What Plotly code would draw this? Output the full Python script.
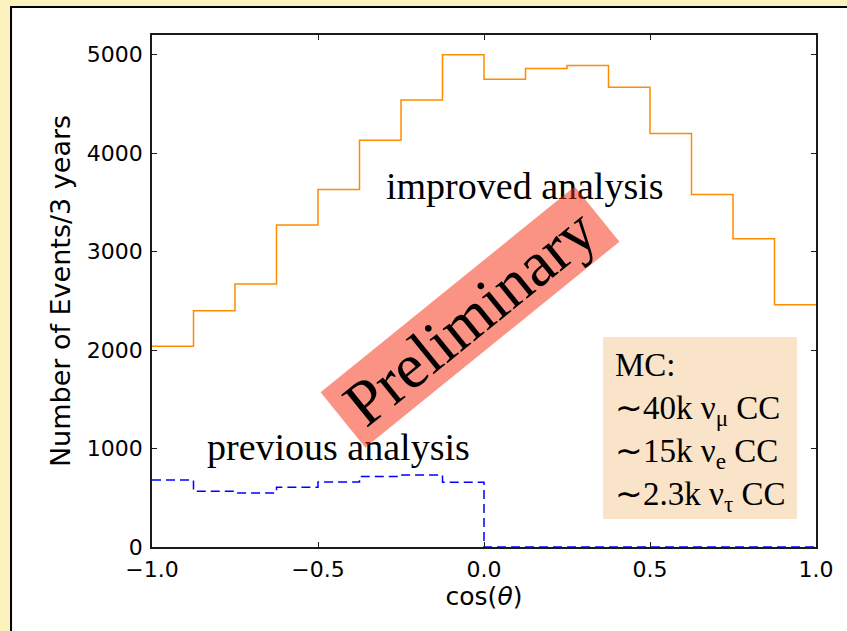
import plotly.graph_objects as go

# cos(theta) binning and event counts per bin (3 years)
bin_edges = [-1.0, -0.875, -0.75, -0.625, -0.5, -0.375, -0.25, -0.125,
             0.0, 0.125, 0.25, 0.375, 0.5, 0.625, 0.75, 0.875, 1.0]
improved_counts = [2040, 2400, 2670, 3270, 3630, 4130, 4540, 5000,
                   4750, 4860, 4890, 4670, 4200, 3580, 3130, 2460]
previous_counts = [680, 566, 549, 607, 661, 715, 732, 657,
                   0, 0, 0, 0, 0, 0, 0, 0]

x_tick_vals = [-1.0, -0.5, 0.0, 0.5, 1.0]
x_tick_text = ["\u22121.0", "\u22120.5", "0.0", "0.5", "1.0"]
y_tick_vals = [0, 1000, 2000, 3000, 4000, 5000]
y_tick_text = ["0", "1000", "2000", "3000", "4000", "5000"]

mc_lines = ["MC:",
            "\u223c40k \u03bd<sub>\u03bc</sub> CC",
            "\u223c15k \u03bd<sub>e</sub> CC",
            "\u223c2.3k \u03bd<sub>\u03c4</sub> CC"]


def step_outline(edges, counts):
    """Histogram outline for an hv-shaped line; the outer verticals sit
    under the frame, so the outline runs from the first to the last edge."""
    xs = list(edges[:-1]) + [edges[-1]]
    ys = list(counts) + [counts[-1]]
    return xs, ys


SERIF = "Liberation Serif, Times New Roman, serif"
SANS = "DejaVu Sans, sans-serif"

fig = go.Figure()

xi, yi = step_outline(bin_edges, improved_counts)
fig.add_trace(go.Scatter(x=xi, y=yi, mode="lines", line_shape="hv",
                         line=dict(color="#ff8c00", width=1.5),
                         showlegend=False, hoverinfo="skip"))

xp, yp = step_outline(bin_edges, previous_counts)
fig.add_trace(go.Scatter(x=xp, y=yp, mode="lines", line_shape="hv",
                         line=dict(color="#0000ff", width=1.5, dash="9px,5px"),
                         showlegend=False, hoverinfo="skip"))

axis_common = dict(showline=True, linecolor="#1a1a1a", linewidth=1.5,
                   mirror="ticks", ticks="inside", ticklen=5, tickwidth=1,
                   tickcolor="#1a1a1a", showgrid=False, zeroline=False,
                   tickfont=dict(family=SANS, size=22, color="black"))

fig.update_xaxes(range=[-1.0, 1.0], tickmode="array", tickvals=x_tick_vals,
                 ticktext=x_tick_text, ticklabelstandoff=2,
                 title=dict(text="cos(<i>\u03b8</i>)", standoff=6,
                            font=dict(family=SANS, size=25, color="black")),
                 **axis_common)
fig.update_yaxes(range=[0, 5200], tickmode="array", tickvals=y_tick_vals,
                 ticktext=y_tick_text, ticklabelstandoff=3,
                 title=dict(text="Number of Events/3 years", standoff=8,
                            font=dict(family=SANS, size=27, color="black")),
                 **axis_common)

shapes = [
    # white slide panel with black border on a pale yellow page
    dict(type="rect", xref="paper", yref="paper",
         x0=-0.2123, x1=2.0, y0=-0.5, y1=1.0547,
         fillcolor="white", line=dict(color="black", width=2), layer="below"),
    # MC statistics box
    dict(type="rect", xref="x", yref="y", x0=0.3584, x1=0.9428, y0=284, y1=2133,
         fillcolor="#f9e3c9", line=dict(width=0), layer="below"),
]

annotations = [
    dict(x=0.1235, y=3666, xref="x", yref="y", text="improved analysis",
         showarrow=False, xanchor="center", yanchor="middle",
         font=dict(family=SERIF, size=38, color="black")),
    dict(x=-0.4383, y=1016, xref="x", yref="y", text="previous analysis",
         showarrow=False, xanchor="center", yanchor="middle",
         font=dict(family=SERIF, size=38, color="black")),
    dict(x=0.3886, y=1170, xref="x", yref="y", text="<br>".join(mc_lines),
         showarrow=False, xanchor="left", yanchor="middle", align="left",
         font=dict(family=SERIF, size=33, color="black")),
    dict(x=-0.0422, y=2336, xref="x", yref="y", text="Preliminary",
         showarrow=False, xanchor="center", yanchor="middle",
         textangle=-39, width=326, height=70, borderpad=0,
         bgcolor="rgba(245,40,8,0.5)",
         font=dict(family=SERIF, size=64, color="black")),
]

fig.update_layout(width=847, height=631,
                  margin=dict(l=152, r=31, t=35, b=84, autoexpand=False),
                  paper_bgcolor="#fcf2bd", plot_bgcolor="white",
                  shapes=shapes, annotations=annotations)

fig.write_html("out.html")
